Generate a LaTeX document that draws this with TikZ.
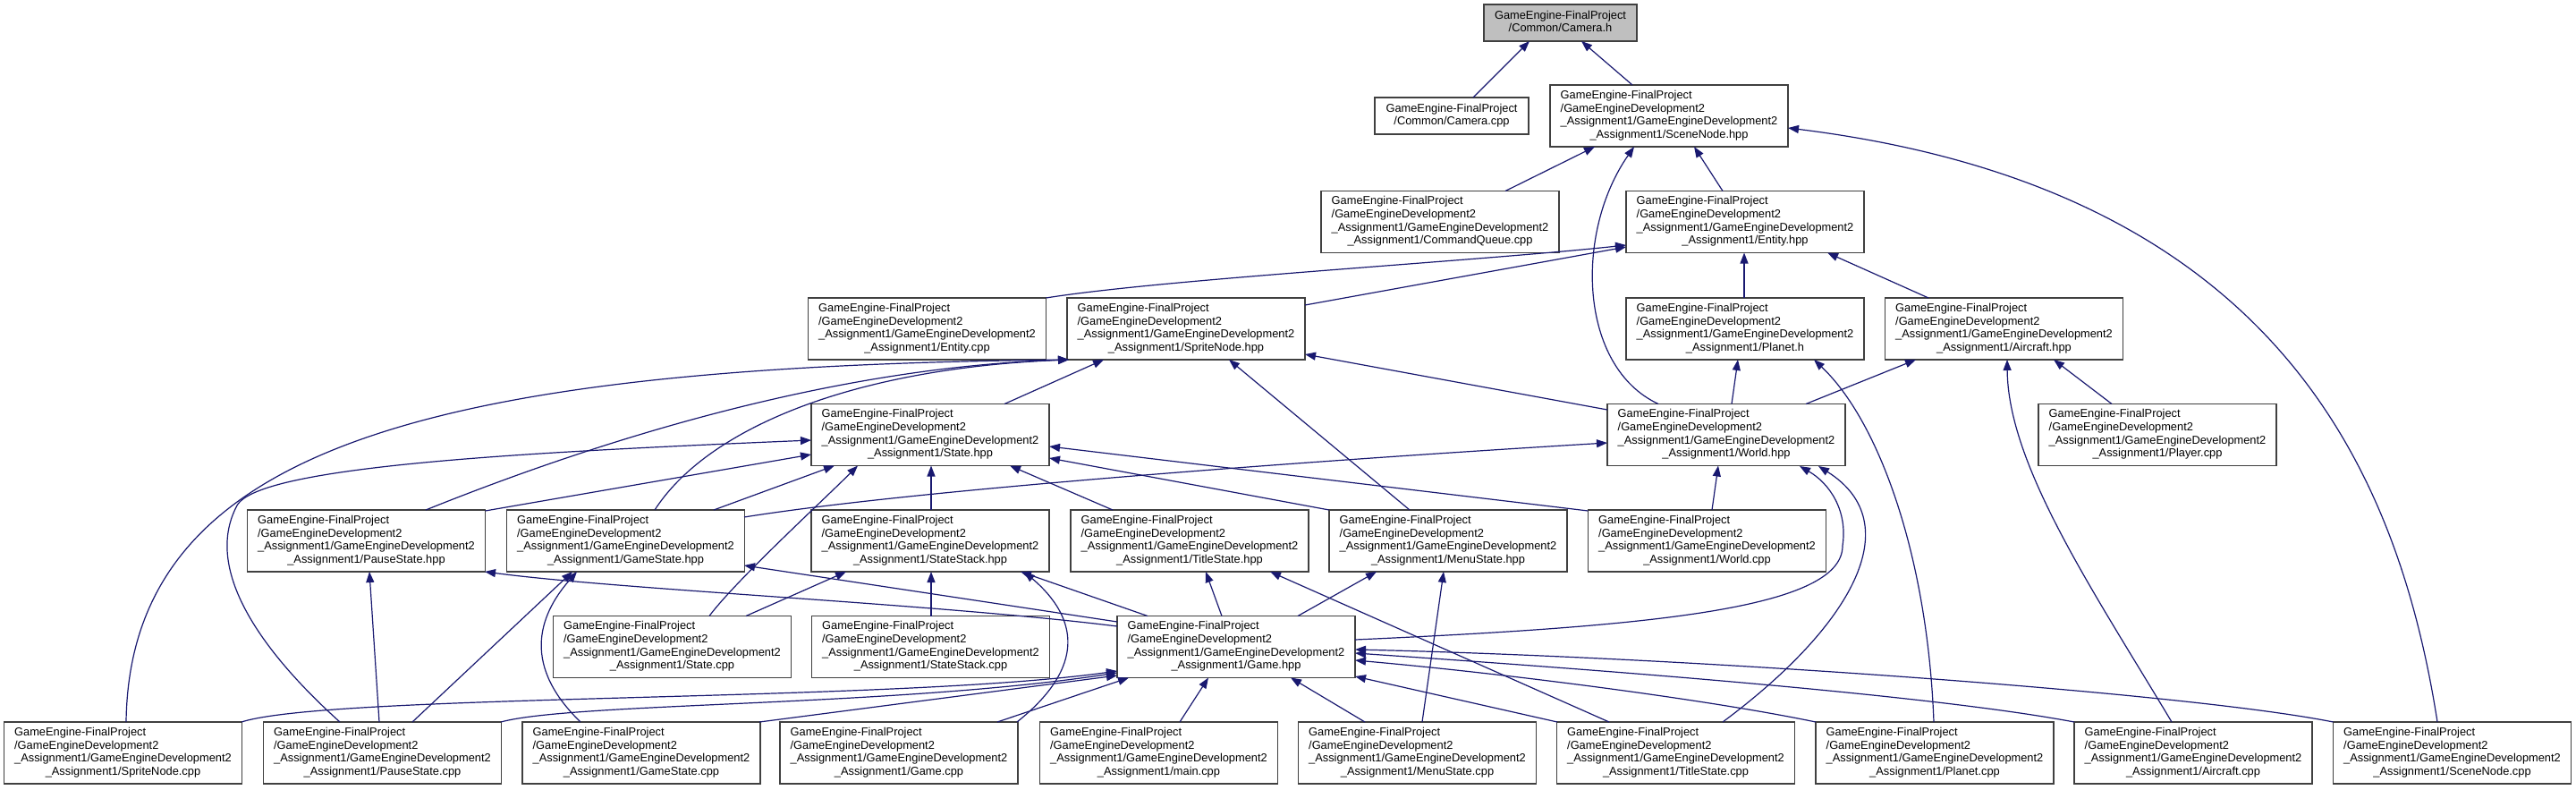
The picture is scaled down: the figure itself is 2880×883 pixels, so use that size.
\documentclass[tikz,border=0pt]{standalone}
\usepackage{fontspec}
\setmainfont{Liberation Sans}
\usetikzlibrary{arrows.meta}
\definecolor{edgeblue}{HTML}{191970}
\definecolor{boxgray}{HTML}{404040}
\definecolor{camfill}{HTML}{BFBFBF}
\newcommand{\dxtext}[1]{\begin{tabular}{@{}l@{}}GameEngine-FinalProject\\/GameEngineDevelopment2\\\_Assignment1/GameEngineDevelopment2\\\multicolumn{1}{@{}c@{}}{\_Assignment1/#1}\end{tabular}}
\newcommand{\cmtext}[1]{\begin{tabular}{@{}c@{}}GameEngine-FinalProject\\/Common/#1\end{tabular}}
\begin{document}
\begin{tikzpicture}[x=1pt,y=-1pt,
  box/.style={draw=boxgray, line width=1.5pt, fill=white, inner sep=0pt,
    minimum width=266pt, minimum height=69pt, font=\fontsize{12.84}{14.7}\selectfont},
  small/.style={box, minimum width=171pt, minimum height=41pt},
  dep/.style={draw=edgeblue, line width=1.2pt, -{Triangle[length=12pt,width=9pt]}}]
\useasboundingbox[fill=white] (0,0) rectangle (2880,883);
% nodes
\node[small, fill=camfill] (camh) at (1744.5,25.5) {\cmtext{Camera.h}};
\node[small, minimum width=172pt] (camcpp) at (1623,129.5) {\cmtext{Camera.cpp}};
\node[box] (scenehpp) at (1866,129.5) {\dxtext{SceneNode.hpp}};
\node[box] (cmdq) at (1610,248) {\dxtext{CommandQueue.cpp}};
\node[box] (entityhpp) at (1951,248) {\dxtext{Entity.hpp}};
\node[box] (entitycpp) at (1036.5,367.5) {\dxtext{Entity.cpp}};
\node[box] (spritehpp) at (1326,367.5) {\dxtext{SpriteNode.hpp}};
\node[box] (planeth) at (1951,367.5) {\dxtext{Planet.h}};
\node[box] (aircrafthpp) at (2240.5,367.5) {\dxtext{Aircraft.hpp}};
\node[box] (statehpp) at (1040,486) {\dxtext{State.hpp}};
\node[box] (worldhpp) at (1930,486) {\dxtext{World.hpp}};
\node[box] (playercpp) at (2412,486) {\dxtext{Player.cpp}};
\node[box] (pausehpp) at (409.5,604.5) {\dxtext{PauseState.hpp}};
\node[box] (gamestatehpp) at (699.5,604.5) {\dxtext{GameState.hpp}};
\node[box] (stackhpp) at (1040,604.5) {\dxtext{StateStack.hpp}};
\node[box] (titlehpp) at (1330,604.5) {\dxtext{TitleState.hpp}};
\node[box] (menuhpp) at (1619,604.5) {\dxtext{MenuState.hpp}};
\node[box] (worldcpp) at (1908.5,604.5) {\dxtext{World.cpp}};
\node[box] (statecpp) at (751.5,723) {\dxtext{State.cpp}};
\node[box] (stackcpp) at (1040.5,723) {\dxtext{StateStack.cpp}};
\node[box] (gamehpp) at (1382,723) {\dxtext{Game.hpp}};
\node[box] (spritecpp) at (137.5,841.5) {\dxtext{SpriteNode.cpp}};
\node[box] (pausecpp) at (427.5,841.5) {\dxtext{PauseState.cpp}};
\node[box] (gamestatecpp) at (717,841.5) {\dxtext{GameState.cpp}};
\node[box] (gamecpp) at (1005,841.5) {\dxtext{Game.cpp}};
\node[box] (maincpp) at (1295.5,841.5) {\dxtext{main.cpp}};
\node[box] (menucpp) at (1584.5,841.5) {\dxtext{MenuState.cpp}};
\node[box] (titlecpp) at (1873.5,841.5) {\dxtext{TitleState.cpp}};
\node[box] (planetcpp) at (2163,841.5) {\dxtext{Planet.cpp}};
\node[box] (aircraftcpp) at (2452,841.5) {\dxtext{Aircraft.cpp}};
\node[box] (scenecpp) at (2741.5,841.5) {\dxtext{SceneNode.cpp}};
% edges
\draw[dep] ([shift={(24,-20.5)}]camcpp.center) -- ([shift={(-34.5,20.5)}]camh.center);
\draw[dep] ([shift={(-41,-34.5)}]scenehpp.center) -- ([shift={(23.5,20.5)}]camh.center);
\draw[dep] ([shift={(73,-34.5)}]cmdq.center) -- ([shift={(-83,34.5)}]scenehpp.center);
\draw[dep] ([shift={(-25,-34.5)}]entityhpp.center) -- ([shift={(28,34.5)}]scenehpp.center);
\draw[dep] ([shift={(-76,-34.5)}]worldhpp.center) .. controls +(-89,-41.5) and +(-67,96) .. ([shift={(-39,34.5)}]scenehpp.center);
\draw[dep] ([shift={(-16.5,-34.5)}]scenecpp.center) .. controls +(-45,-287) and +(541,67) .. ([shift={(133,13.5)}]scenehpp.center);
\draw[dep] ([shift={(133,-34.5)}]entitycpp.center) .. controls +(131,-21) and +(-168,18) .. ([shift={(-133,26)}]entityhpp.center);
\draw[dep] ([shift={(133,-26.5)}]spritehpp.center) -- ([shift={(-133,28)}]entityhpp.center);
\draw[dep] ([shift={(-1,-34.5)}]planeth.center) -- ([shift={(-1,34.5)}]entityhpp.center);
\draw[dep] ([shift={(-84.5,-34.5)}]aircrafthpp.center) -- ([shift={(92,34.5)}]entityhpp.center);
\draw[dep] ([shift={(6,-34.5)}]worldhpp.center) -- ([shift={(-8,34.5)}]planeth.center);
\draw[dep] ([shift={(-1,-34.5)}]planetcpp.center) .. controls +(-7,-187) and +(72,68) .. ([shift={(77,34.5)}]planeth.center);
\draw[dep] ([shift={(89,-34.5)}]worldhpp.center) -- ([shift={(-98.5,34.5)}]aircrafthpp.center);
\draw[dep] ([shift={(-51,-34.5)}]playercpp.center) -- ([shift={(55.5,34.5)}]aircrafthpp.center);
\draw[dep] ([shift={(-24,-34.5)}]aircraftcpp.center) .. controls +(-88,-147) and +(1,118) .. ([shift={(3.5,34.5)}]aircrafthpp.center);
\draw[dep] ([shift={(83,-34.5)}]statehpp.center) -- ([shift={(-92,34.5)}]spritehpp.center);
\draw[dep] ([shift={(-133,-28)}]worldhpp.center) -- ([shift={(133,28.5)}]spritehpp.center);
\draw[dep] ([shift={(-43,-34.5)}]menuhpp.center) -- ([shift={(48,34.5)}]spritehpp.center);
\draw[dep] ([shift={(66.5,-34.5)}]pausehpp.center) .. controls +(224,-90) and +(-245,8) .. ([shift={(-131,34.5)}]spritehpp.center);
\draw[dep] ([shift={(32.5,-34.5)}]gamestatehpp.center) .. controls +(58,-90) and +(-245,10) .. ([shift={(-131,34.5)}]spritehpp.center);
\draw[dep] ([shift={(3.5,-34.5)}]spritecpp.center) .. controls +(4,-307) and +(-715,8) .. ([shift={(-131,34.5)}]spritehpp.center);
\draw[dep] ([shift={(133,-33.5)}]pausehpp.center) -- ([shift={(-133,22)}]statehpp.center);
\draw[dep] ([shift={(98.5,-34.5)}]gamestatehpp.center) -- ([shift={(-107,34.5)}]statehpp.center);
\draw[dep] ([shift={(1,-34.5)}]stackhpp.center) -- ([shift={(1,34.5)}]statehpp.center);
\draw[dep] ([shift={(-86,-34.5)}]titlehpp.center) -- ([shift={(89,34.5)}]statehpp.center);
\draw[dep] ([shift={(-133,-34.5)}]menuhpp.center) -- ([shift={(133,26)}]statehpp.center);
\draw[dep] ([shift={(-133,-33.5)}]worldcpp.center) -- ([shift={(133,13)}]statehpp.center);
\draw[dep] ([shift={(41.5,-34.5)}]statecpp.center) .. controls +(30,-40) and +(-40,40) .. ([shift={(-81,34.5)}]statehpp.center);
\draw[dep] ([shift={(-47.5,-34.5)}]pausecpp.center) .. controls +(-80,-72) and +(-40,75) .. ++(-115,-242) .. controls +(25,-45) and +(-307,13) .. ([shift={(-133,6)}]statehpp.center);
\draw[dep] ([shift={(5.5,-34.5)}]worldcpp.center) -- ([shift={(-9,34.5)}]worldhpp.center);
\draw[dep] ([shift={(132.5,-26.5)}]gamestatehpp.center) .. controls +(200,-32) and +(-300,18) .. ([shift={(-133,9)}]worldhpp.center);
\draw[dep] ([shift={(133,-8)}]gamehpp.center) .. controls +(335,-15) and +(0,70) .. ++(545,-105) .. controls +(6,-40) and +(33,19) .. ([shift={(82,35)}]worldhpp.center);
\draw[dep] ([shift={(52.5,-34.5)}]titlecpp.center) .. controls +(144,-107) and +(102,64) .. ([shift={(103,35)}]worldhpp.center);
\draw[dep] ([shift={(-133,-23)}]gamehpp.center) .. controls +(-200,-25) and +(150,20) .. ([shift={(132.5,34.5)}]pausehpp.center);
\draw[dep] ([shift={(-133,-28)}]gamehpp.center) -- ([shift={(132.5,27.5)}]gamestatehpp.center);
\draw[dep] ([shift={(-99,-34.5)}]gamehpp.center) -- ([shift={(101,34.5)}]stackhpp.center);
\draw[dep] ([shift={(-16,-34.5)}]gamehpp.center) -- ([shift={(18,34.5)}]titlehpp.center);
\draw[dep] ([shift={(69,-34.5)}]gamehpp.center) -- ([shift={(-80,34.5)}]menuhpp.center);
\draw[dep] ([shift={(-3.5,-34.5)}]pausecpp.center) -- ([shift={(3.5,34.5)}]pausehpp.center);
\draw[dep] ([shift={(33.5,-34.5)}]pausecpp.center) -- ([shift={(-59.5,34.5)}]gamestatehpp.center);
\draw[dep] ([shift={(-68,-34.5)}]gamestatecpp.center) .. controls +(-64,-62) and +(-45,51) .. ([shift={(-54.5,34.5)}]gamestatehpp.center);
\draw[dep] ([shift={(82.5,-34.5)}]statecpp.center) -- ([shift={(-94,34.5)}]stackhpp.center);
\draw[dep] ([shift={(0.5,-34.5)}]stackcpp.center) -- ([shift={(1,34.5)}]stackhpp.center);
\draw[dep] ([shift={(132,-34.5)}]gamecpp.center) .. controls +(78,-62) and +(60,51) .. ([shift={(105,34.5)}]stackhpp.center);
\draw[dep] ([shift={(-74.5,-34.5)}]titlecpp.center) -- ([shift={(90,34.5)}]titlehpp.center);
\draw[dep] ([shift={(5.5,-34.5)}]menucpp.center) -- ([shift={(-5,34.5)}]menuhpp.center);
\draw[dep] ([shift={(132.5,-34.5)}]spritecpp.center) .. controls +(100,-32) and +(-249,35) .. ([shift={(-133,27)}]gamehpp.center);
\draw[dep] ([shift={(132.5,-34.5)}]pausecpp.center) .. controls +(80,-22) and +(-249,38) .. ([shift={(-133,29)}]gamehpp.center);
\draw[dep] ([shift={(132,-34.5)}]gamestatecpp.center) -- ([shift={(-133,32)}]gamehpp.center);
\draw[dep] ([shift={(110,-34.5)}]gamecpp.center) -- ([shift={(-120,34.5)}]gamehpp.center);
\draw[dep] ([shift={(23.5,-34.5)}]maincpp.center) -- ([shift={(-31,34.5)}]gamehpp.center);
\draw[dep] ([shift={(-58.5,-34.5)}]menucpp.center) -- ([shift={(61,34.5)}]gamehpp.center);
\draw[dep] ([shift={(-132.5,-34.5)}]titlecpp.center) -- ([shift={(133,33)}]gamehpp.center);
\draw[dep] ([shift={(-133,-34.5)}]planetcpp.center) .. controls +(-120,-25) and +(170,15) .. ([shift={(133,15)}]gamehpp.center);
\draw[dep] ([shift={(-133,-34.5)}]aircraftcpp.center) .. controls +(-169,-32) and +(235,16) .. ([shift={(133,7)}]gamehpp.center);
\draw[dep] ([shift={(-133,-34.5)}]scenecpp.center) .. controls +(-159,-32) and +(385,9) .. ([shift={(133,3)}]gamehpp.center);
\end{tikzpicture}
\end{document}
